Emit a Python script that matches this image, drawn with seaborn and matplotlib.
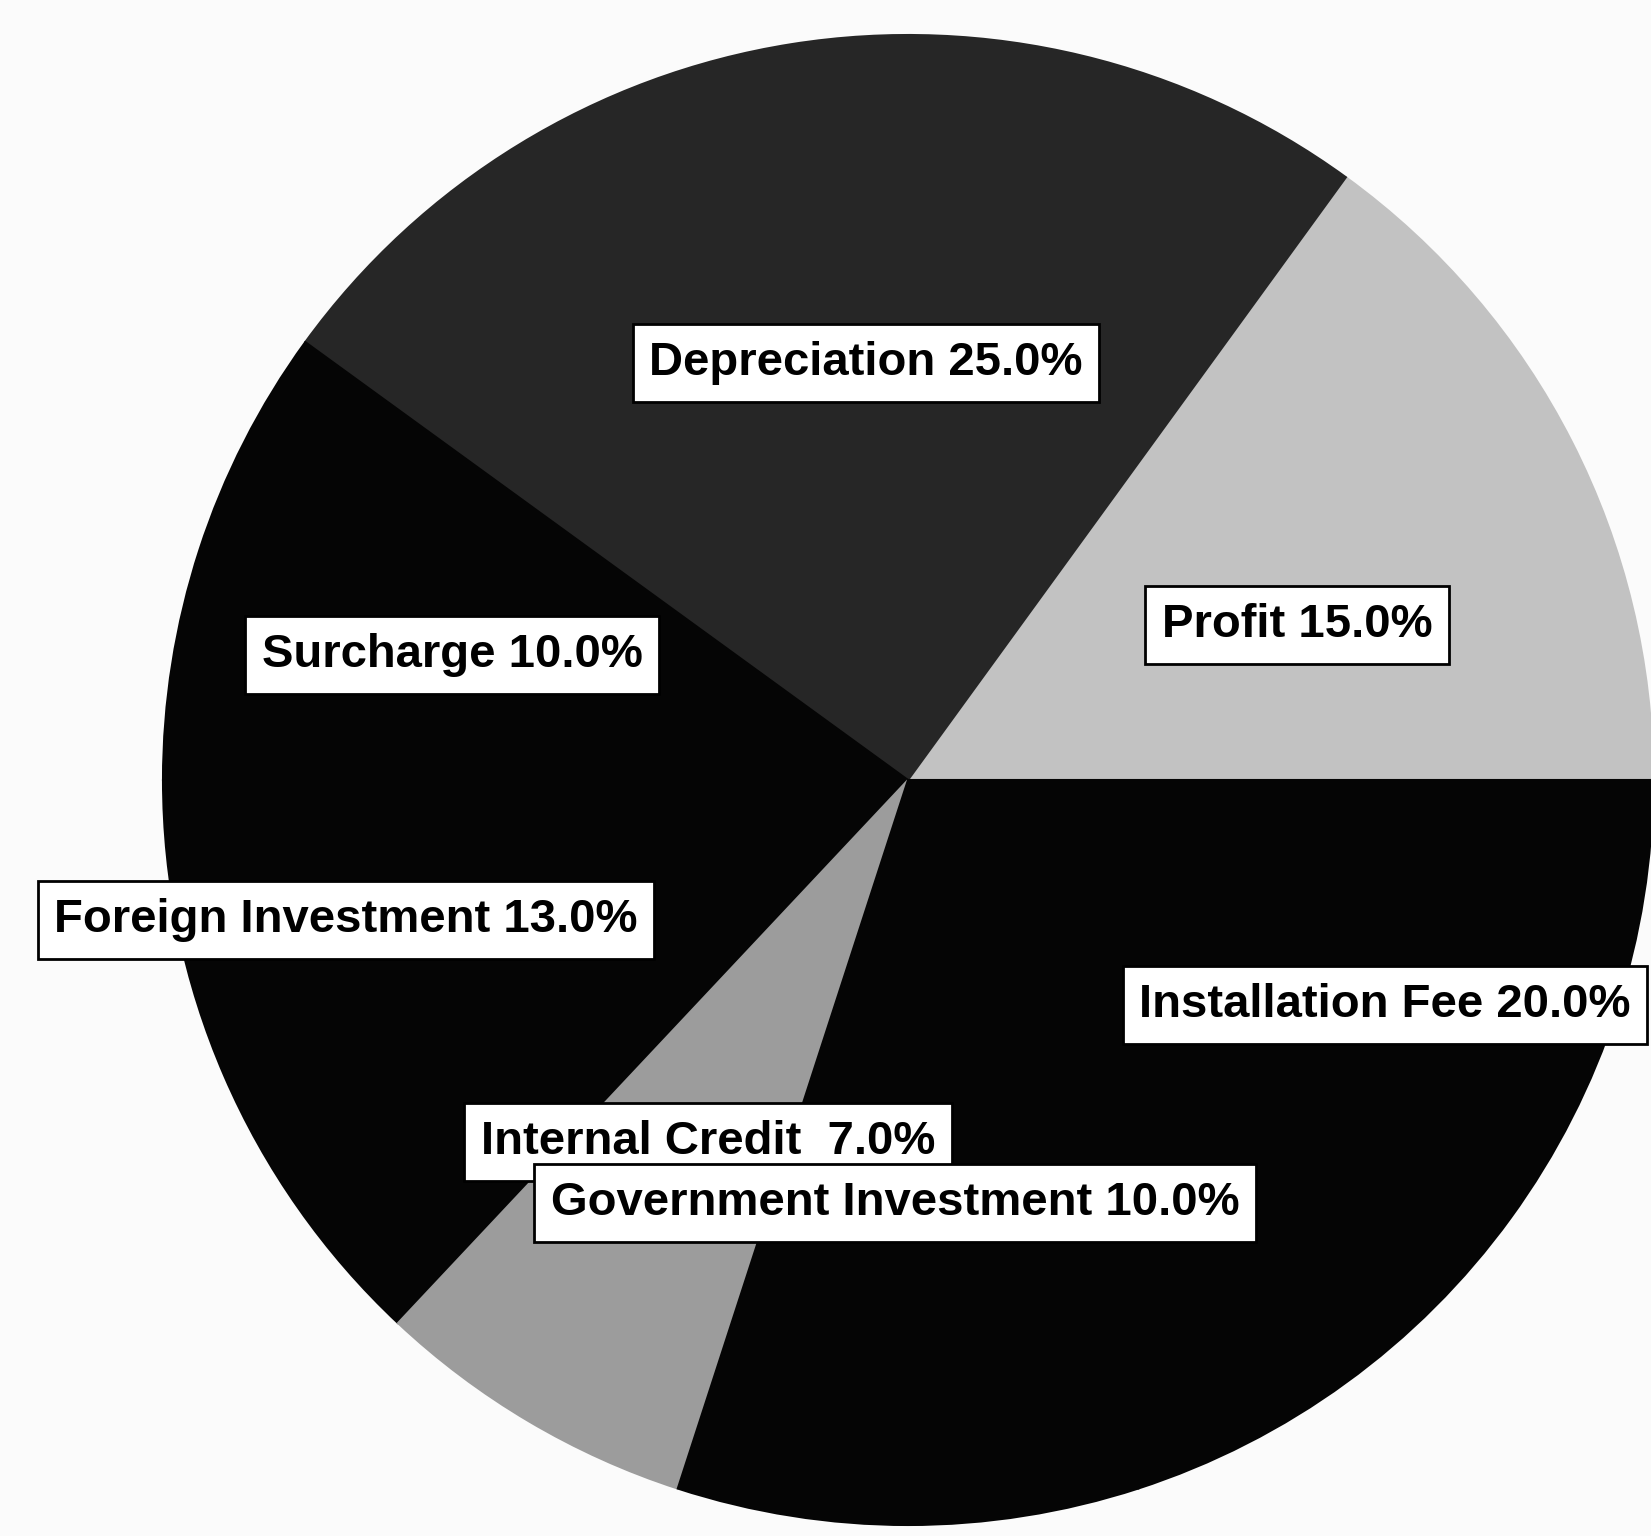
import matplotlib
matplotlib.use("Agg")
import matplotlib.pyplot as plt
import seaborn as sns

# slice data, counter-clockwise from 3 o'clock
categories = ["Profit", "Depreciation", "Surcharge", "Foreign Investment",
              "Internal Credit ", "Government Investment", "Installation Fee"]
shares = [15.0, 25.0, 10.0, 13.0, 7.0, 10.0, 20.0]

sns.set_theme(style="white")
plt.rcParams['font.family'] = ['Liberation Sans', 'DejaVu Sans']

W, H = 1651, 1536
fig = plt.figure(figsize=(W / 100, H / 100), dpi=100)
fig.patch.set_facecolor("#fbfbfb")
ax = fig.add_axes([0, 0, 1, 1])

colors = ["#c2c2c2", "#262626", "#050505", "#050505",
          "#9c9c9c", "#050505", "#050505"]

wedges, _ = ax.pie(shares, colors=colors, startangle=0, counterclock=True,
                   radius=745, center=(908, H - 780), frame=True,
                   wedgeprops=dict(linewidth=1.5))
for w, c in zip(wedges, colors):
    w.set_edgecolor(c)

ax.set_xlim(0, W)
ax.set_ylim(0, H)
ax.set_aspect("equal")
ax.axis("off")

# label box centres in pixel coords (x, y from top)
label_pos = {
    "Profit": (1297, 625),
    "Depreciation": (866, 363),
    "Surcharge": (452, 655),
    "Foreign Investment": (346, 920),
    "Internal Credit ": (708, 1142),
    "Government Investment": (895, 1203),
    "Installation Fee": (1385, 1005),
}

for i, (name, val) in enumerate(zip(categories, shares)):
    x, y = label_pos[name]
    ax.text(x, H - y, f"{name} {val:.1f}%", ha="center", va="center",
            fontsize=34, fontweight="bold", color="black", zorder=10 + i,
            bbox=dict(boxstyle="square,pad=0.35", facecolor="white",
                      edgecolor="black", linewidth=2))

fig.savefig("out.png", dpi=100, facecolor=fig.get_facecolor())
